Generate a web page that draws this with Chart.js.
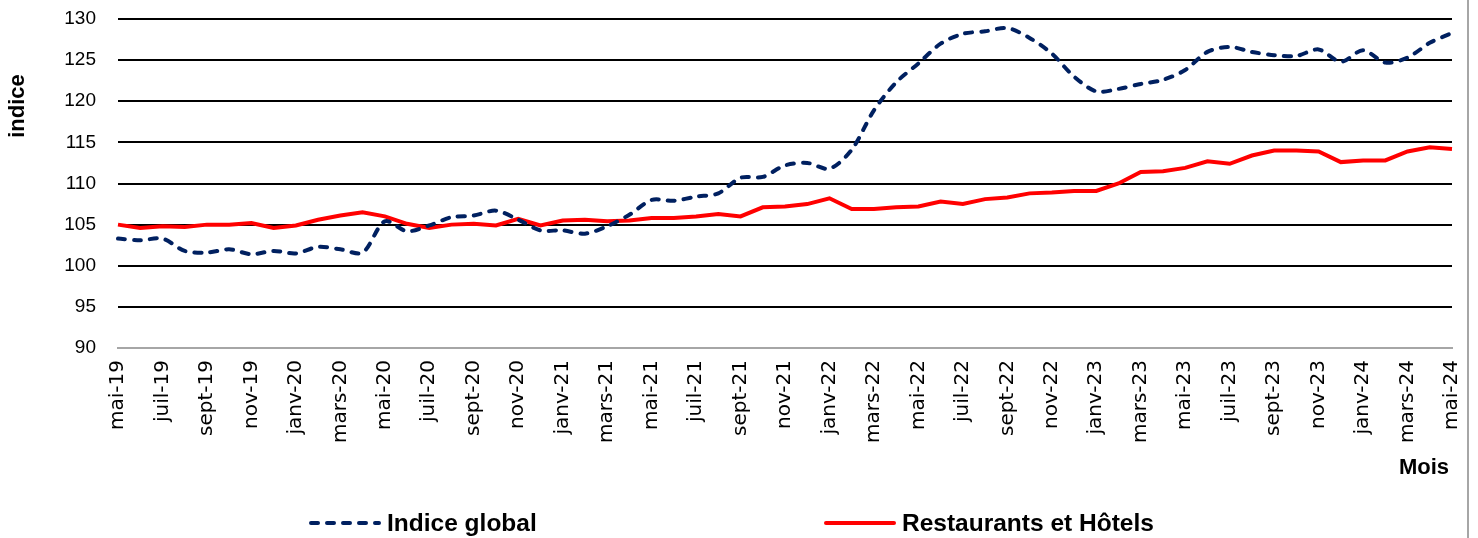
<!DOCTYPE html>
<html>
<head>
<meta charset="utf-8">
<script src="https://cdn.jsdelivr.net/npm/chart.js@4.4.1/dist/chart.umd.min.js"></script>
<style>
  html, body { margin: 0; padding: 0; background: #fff; }
  #wrap { width: 1478px; height: 538px; position: relative; }
</style>
</head>
<body>
<div id="wrap"><canvas id="c" width="1478" height="538"></canvas></div>
<script>
const months = ['mai-19','juin-19','juil-19','août-19','sept-19','oct-19','nov-19','déc-19',
  'janv-20','févr-20','mars-20','avr-20','mai-20','juin-20','juil-20','août-20','sept-20','oct-20','nov-20','déc-20',
  'janv-21','févr-21','mars-21','avr-21','mai-21','juin-21','juil-21','août-21','sept-21','oct-21','nov-21','déc-21',
  'janv-22','févr-22','mars-22','avr-22','mai-22','juin-22','juil-22','août-22','sept-22','oct-22','nov-22','déc-22',
  'janv-23','févr-23','mars-23','avr-23','mai-23','juin-23','juil-23','août-23','sept-23','oct-23','nov-23','déc-23',
  'janv-24','févr-24','mars-24','avr-24','mai-24'];

const indiceGlobal = [103.3,103.1,103.3,101.8,101.6,102.0,101.4,101.8,101.5,102.3,102.0,101.6,
  105.4,104.2,104.9,105.9,106.1,106.7,105.6,104.3,104.3,103.9,
  104.8,106.2,108.0,107.9,108.4,108.8,110.7,110.8,112.2,112.5,
  111.8,114.1,118.9,122.3,124.6,127.0,128.2,128.5,128.9,127.7,125.8,123.0,
  121.2,121.5,122.1,122.6,123.8,126.0,126.6,126.0,125.6,125.5,126.3,124.8,126.2,124.7,125.3,127.1,128.3];

const restaurantsHotels = [105.0,104.6,104.8,104.7,105.0,105.0,105.2,104.6,104.9,105.6,106.1,106.5,
  106.0,105.1,104.6,105.0,105.1,104.9,105.7,104.9,105.5,105.6,
  105.4,105.5,105.8,105.8,106.0,106.3,106.0,107.1,107.2,107.5,
  108.2,106.9,106.9,107.1,107.2,107.8,107.5,108.1,108.3,108.8,108.9,109.1,
  109.1,110.0,111.4,111.5,111.9,112.7,112.4,113.4,114.0,114.0,113.9,112.6,112.8,112.8,113.9,114.4,114.2];

const yTicks = [90, 95, 100, 105, 110, 115, 120, 125, 130];
const seriesNames = ['Indice global', 'Restaurants et Hôtels'];
const yTitle = 'indice';
const xTitle = 'Mois';

const BLUE = '#002060';
const RED = '#FF0000';

const extras = {
  id: 'extras',
  afterDraw(chart) {
    const ctx = chart.ctx;
    ctx.save();
    // y title
    ctx.fillStyle = '#000';
    ctx.font = 'bold 22px "Liberation Sans", Arial, sans-serif';
    ctx.translate(18, 106);
    ctx.rotate(-Math.PI / 2);
    ctx.textAlign = 'center';
    ctx.textBaseline = 'middle';
    ctx.fillText(yTitle, 0, 0);
    ctx.restore();

    ctx.save();
    ctx.fillStyle = '#000';
    ctx.font = 'bold 22px "Liberation Sans", Arial, sans-serif';
    ctx.textAlign = 'right';
    ctx.textBaseline = 'middle';
    ctx.fillText(xTitle, 1449, 468);

    // legend
    const items = [
      {x: 311, color: BLUE, dash: [7, 9], text: seriesNames[0]},
      {x: 826, color: RED, dash: [], text: seriesNames[1]}
    ];
    const ly = 523;
    ctx.font = 'bold 24.5px "Liberation Sans", Arial, sans-serif';
    ctx.textAlign = 'left';
    items.forEach(it => {
      ctx.beginPath();
      ctx.strokeStyle = it.color;
      ctx.lineWidth = 4;
      ctx.lineCap = 'round';
      ctx.setLineDash(it.dash);
      ctx.moveTo(it.x, ly);
      ctx.lineTo(it.x + 68, ly);
      ctx.stroke();
      ctx.setLineDash([]);
      ctx.fillStyle = '#000';
      ctx.fillText(it.text, it.x + 76, ly + 1);
    });

    // outer right border
    ctx.beginPath();
    ctx.strokeStyle = '#a6a6a6';
    ctx.lineWidth = 2;
    ctx.moveTo(1468, 0);
    ctx.lineTo(1468, 538);
    ctx.stroke();
    ctx.restore();
  }
};

new Chart(document.getElementById('c'), {
  type: 'line',
  data: {
    labels: months,
    datasets: [
      {
        label: seriesNames[0],
        data: indiceGlobal,
        borderColor: BLUE,
        backgroundColor: BLUE,
        borderWidth: 4,
        borderDash: [7, 9],
        borderCapStyle: 'round',
        pointRadius: 0,
        tension: 0.3,
        fill: false
      },
      {
        label: seriesNames[1],
        data: restaurantsHotels,
        borderColor: RED,
        backgroundColor: RED,
        borderWidth: 4,
        pointRadius: 0,
        tension: 0,
        fill: false
      }
    ]
  },
  options: {
    responsive: false,
    animation: false,
    events: [],
    layout: { padding: { top: 19, right: 26, bottom: 0, left: 0 } },
    plugins: { legend: { display: false }, tooltip: { enabled: false } },
    scales: {
      x: {
        offset: false,
        grid: { display: false, drawTicks: false },
        border: { display: true, color: '#a6a6a6', width: 2 },
        ticks: {
          autoSkip: false,
          maxRotation: 90,
          minRotation: 90,
          padding: 12,
          color: '#000',
          font: { family: '"DejaVu Sans", sans-serif', size: 20 },
          callback: function(v, i) { return i % 2 === 0 ? months[i] : ''; }
        },
        afterFit(scale) { scale.height = 538 - 348; scale.paddingLeft = 0; scale.paddingRight = 0; }
      },
      y: {
        min: 90,
        max: 130,
        afterBuildTicks(scale) { scale.ticks = yTicks.map(v => ({ value: v })); },
        grid: {
          drawTicks: false,
          lineWidth: 2,
          color: ctx => (ctx.tick && ctx.tick.value === 90) ? '#a6a6a6' : '#000'
        },
        border: { display: false },
        ticks: {
          padding: 22,
          color: '#000',
          font: { family: '"Liberation Sans", Arial, sans-serif', size: 19 }
        },
        afterFit(scale) { scale.width = 118; scale.paddingTop = 0; scale.paddingBottom = 0; }
      }
    }
  },
  plugins: [extras]
});
</script>
</body>
</html>
